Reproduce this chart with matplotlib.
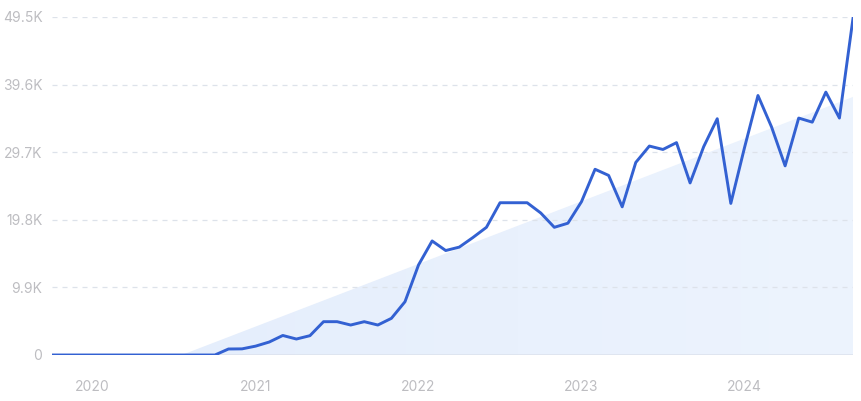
import numpy as np
import pandas as pd
import matplotlib
matplotlib.use("Agg")
import matplotlib.pyplot as plt
from matplotlib.patches import Polygon

# monthly values, Oct 2019 .. Sep 2024
months = pd.date_range("2019-10-01", periods=60, freq="MS")
values = [
    0, 0, 0, 0, 0, 0, 0, 0, 0, 0, 0, 0, 0,
    880, 900, 1300, 1900, 2860, 2340, 2830, 4880, 4880, 4390, 4880, 4390,
    5370, 7800, 13200, 16700, 15300, 15800, 17200, 18700, 22300, 22300,
    22300, 20800, 18700, 19300, 22450, 27200, 26300, 21700, 28200, 30600,
    30100, 31100, 25200, 30500, 34600, 22200, 30300, 38000, 33400, 27700,
    34700, 34100, 38500, 34700, 49300,
]

# trend area: start (fractional month index) and end values
trend_idx = [9.55, 59]
trend_val = [0, 37800]

yticks = [0, 9900, 19800, 29700, 39600, 49500]
ylabels = ["0", "9.9K", "19.8K", "29.7K", "39.6K", "49.5K"]
years = ["2020", "2021", "2022", "2023", "2024"]

plt.rcParams["font.family"] = ["Inter", "DejaVu Sans"]

fig = plt.figure(figsize=(8.62, 4.01), dpi=100)
ax = fig.add_axes([52 / 862, 46 / 401, (853 - 52) / 862, (355 - 17) / 401])

x = np.arange(len(values))

# gradient trend area
poly = Polygon([(trend_idx[0], 0), (trend_idx[1], trend_val[1]), (trend_idx[1], 0)],
               closed=True, facecolor="none", edgecolor="none")
ax.add_patch(poly)
grad = np.linspace(0, 1, 256).reshape(1, -1)
cmap = matplotlib.colors.LinearSegmentedColormap.from_list("g", ["#e5eefc", "#edf4fe"])
im = ax.imshow(grad, extent=[trend_idx[0], trend_idx[1], 0, trend_val[1]],
               aspect="auto", cmap=cmap, origin="lower", zorder=1)
im.set_clip_path(poly)

ax.plot(x, values, color="#3361d2", lw=2.1, zorder=3, solid_joinstyle="round")

ax.set_xlim(0, 59)
ax.set_ylim(0, 49500)
ax.set_yticks(yticks)
ax.set_yticklabels(ylabels)
for yt in yticks[1:]:
    ax.axhline(yt, color="#dde2ea", lw=0.9, ls=(0, (4, 4)), zorder=2)
ax.axhline(0, color="#dde3ee", lw=1.2, zorder=2)

jan_idx = [i for i, m in enumerate(months) if m.month == 1]
ax.set_xticks(jan_idx)
ax.set_xticklabels(years)

for s in ax.spines.values():
    s.set_visible(False)
ax.tick_params(axis="both", length=0, colors="#bdbdc1", labelsize=10)
ax.tick_params(axis="y", pad=7)
ax.tick_params(axis="x", pad=18)

fig.savefig("out.png", dpi=100)
